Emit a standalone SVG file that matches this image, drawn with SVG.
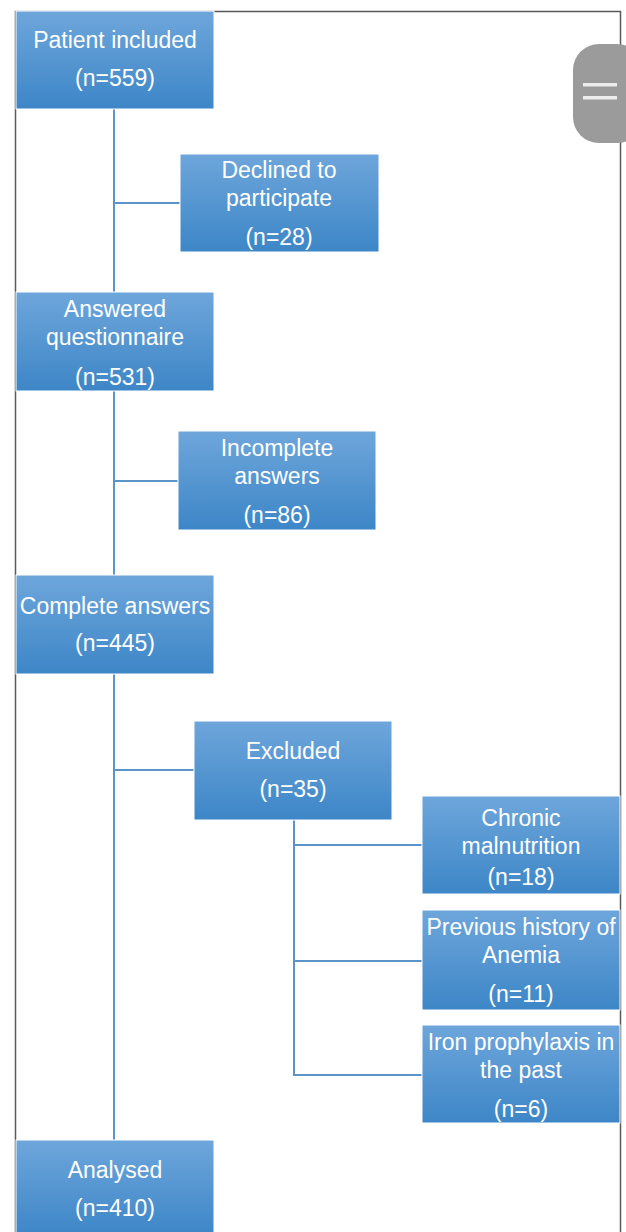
<svg xmlns="http://www.w3.org/2000/svg" width="626" height="1232" viewBox="0 0 626 1232">
<defs>
<linearGradient id="bg" x1="0" y1="0" x2="0" y2="1">
<stop offset="0" stop-color="#6EA6DB"/>
<stop offset="1" stop-color="#3D86C7"/>
</linearGradient>
<style>
.box{fill:url(#bg);stroke:#FFFFFF;stroke-width:1}
.t{font-family:"Liberation Sans",Arial,sans-serif;font-size:23px;fill:#FFFFFF;text-anchor:middle}
.c{stroke:#5B94C9;stroke-width:2;fill:none}
</style>
</defs>
<rect width="626" height="1232" fill="#FFFFFF"/>
<g id="frame" fill="none" stroke="#5A5A5A" stroke-width="1.5">
<path d="M15.5 1232 V11.5 H620.5 V1232"/>
</g>
<g id="connectors">
<path class="c" d="M114 109 V1140"/>
<path class="c" d="M114 203 H180"/>
<path class="c" d="M114 481 H178"/>
<path class="c" d="M114 770 H194"/>
<path class="c" d="M294 820 V1075 H422"/>
<path class="c" d="M294 845 H422"/>
<path class="c" d="M294 961 H422"/>
</g>
<g id="n1"><rect class="box" x="16" y="11" width="198" height="98"/>
<text class="t" x="115" y="48">Patient included</text><text class="t" x="115" y="86">(n=559)</text></g>
<g id="n2"><rect class="box" x="180" y="154" width="199" height="98"/>
<text class="t" x="279" y="178">Declined to</text><text class="t" x="279" y="206">participate</text><text class="t" x="279" y="245">(n=28)</text></g>
<g id="n3"><rect class="box" x="16" y="292" width="198" height="99"/>
<text class="t" x="115" y="317">Answered</text><text class="t" x="115" y="345">questionnaire</text><text class="t" x="115" y="385">(n=531)</text></g>
<g id="n4"><rect class="box" x="178" y="431" width="198" height="99"/>
<text class="t" x="277" y="456">Incomplete</text><text class="t" x="277" y="484">answers</text><text class="t" x="277" y="523">(n=86)</text></g>
<g id="n5"><rect class="box" x="16" y="575" width="198" height="99"/>
<text class="t" x="115" y="614">Complete answers</text><text class="t" x="115" y="651">(n=445)</text></g>
<g id="n6"><rect class="box" x="194" y="721" width="198" height="99"/>
<text class="t" x="293" y="759">Excluded</text><text class="t" x="293" y="797">(n=35)</text></g>
<g id="n7"><rect class="box" x="422" y="796" width="198" height="98"/>
<text class="t" x="521" y="826">Chronic</text><text class="t" x="521" y="854">malnutrition</text><text class="t" x="521" y="885">(n=18)</text></g>
<g id="n8"><rect class="box" x="422" y="910" width="198" height="100"/>
<text class="t" x="521" y="935">Previous history of</text><text class="t" x="521" y="963">Anemia</text><text class="t" x="521" y="1002">(n=11)</text></g>
<g id="n9"><rect class="box" x="422" y="1025" width="198" height="98"/>
<text class="t" x="521" y="1050">Iron prophylaxis in</text><text class="t" x="521" y="1078">the past</text><text class="t" x="521" y="1117">(n=6)</text></g>
<g id="n10"><rect class="box" x="16" y="1140" width="198" height="96"/>
<text class="t" x="115" y="1178">Analysed</text><text class="t" x="115" y="1216">(n=410)</text></g>
<g id="scroll">
<rect x="573" y="44" width="70" height="99" rx="26" fill="#9B9B9B"/>
<rect x="583" y="83" width="34" height="3.5" fill="#ECECEC"/>
<rect x="583" y="96" width="34" height="3.5" fill="#ECECEC"/>
</g>
</svg>
